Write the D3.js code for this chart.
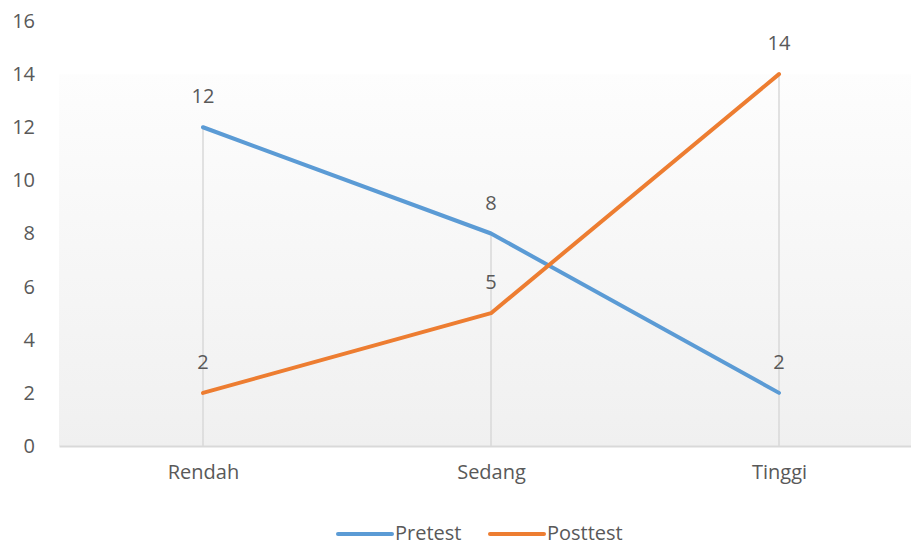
<!DOCTYPE html>
<html>
<head>
<meta charset="utf-8">
<script src="https://cdn.jsdelivr.net/npm/d3@7"></script>
<style>
  body { margin: 0; background: #fff; }
  svg text { font-family: "Open Sans", sans-serif; fill: #595959; }
</style>
</head>
<body>
<svg id="chart" width="911" height="545"></svg>
<script>
// Chart data
const categories = ['Rendah', 'Sedang', 'Tinggi'];
const pretest = [12, 8, 2];
const posttest = [2, 5, 14];
const yTicks = [0, 2, 4, 6, 8, 10, 12, 14, 16];
const seriesNames = ['Pretest', 'Posttest'];
const seriesColors = ['#5b9bd5', '#ed7d31'];

const WIDTH = 911;
const HEIGHT = 545;
const MARGIN = { left: 59, right: -12, top: 21, bottom: 99 };

const svg = d3.select('#chart');

// Scales
const xScale = d3.scalePoint()
  .domain(categories)
  .range([MARGIN.left, WIDTH - MARGIN.right])
  .padding(0.5);

const yScale = d3.scaleLinear()
  .domain([0, 16])
  .range([HEIGHT - MARGIN.bottom, MARGIN.top]);

// Plot background gradient
const grad = svg.append('defs').append('linearGradient')
  .attr('id', 'bg')
  .attr('x1', 0).attr('y1', 0).attr('x2', 0).attr('y2', 1);
grad.append('stop').attr('offset', '0%').attr('stop-color', '#fdfdfd');
grad.append('stop').attr('offset', '100%').attr('stop-color', '#f0f0f0');

svg.append('rect')
  .attr('x', MARGIN.left)
  .attr('y', yScale(14))
  .attr('width', WIDTH - MARGIN.left)
  .attr('height', yScale(0) - yScale(14))
  .attr('fill', 'url(#bg)');

// Y axis labels (no line)
const yAxis = d3.axisLeft(yScale).tickValues(yTicks).tickSize(0).tickPadding(24);
svg.append('g')
  .attr('transform', `translate(${MARGIN.left}, 0)`)
  .call(yAxis)
  .call(g => g.select('.domain').remove())
  .call(g => g.selectAll('text')
    .style('font-size', '20px')
    .attr('fill', '#595959'));

// X axis
const xAxis = d3.axisBottom(xScale).tickSize(0).tickPadding(19);
svg.append('g')
  .attr('transform', `translate(0, ${yScale(0)})`)
  .call(xAxis)
  .call(g => g.select('.domain')
    .attr('stroke', '#d9d9d9')
    .attr('stroke-width', 2))
  .call(g => g.selectAll('text')
    .style('font-size', '20px')
    .attr('fill', '#595959'));

// Drop lines from highest point to axis
const maxVals = categories.map((c, i) => Math.max(pretest[i], posttest[i]));
svg.append('g').selectAll('line')
  .data(categories)
  .join('line')
  .attr('x1', d => xScale(d))
  .attr('x2', d => xScale(d))
  .attr('y1', (d, i) => yScale(maxVals[i]))
  .attr('y2', yScale(0))
  .attr('stroke', '#d9d9d9')
  .attr('stroke-width', 1.5);

// Series lines
const allSeries = [pretest, posttest];
const lineGenerator = d3.line()
  .x((d, i) => xScale(categories[i]))
  .y(d => yScale(d));

svg.append('g').selectAll('path')
  .data(allSeries)
  .join('path')
  .attr('d', lineGenerator)
  .attr('fill', 'none')
  .attr('stroke', (d, i) => seriesColors[i])
  .attr('stroke-width', 4)
  .attr('stroke-linecap', 'round')
  .attr('stroke-linejoin', 'round');

// Data labels
allSeries.forEach(values => {
  svg.append('g').selectAll('text')
    .data(values)
    .join('text')
    .attr('x', (d, i) => xScale(categories[i]))
    .attr('y', d => yScale(d) - 24)
    .attr('text-anchor', 'middle')
    .style('font-size', '20px')
    .text(d => d);
});

// Legend
const legendX = [338, 490];
const legend = svg.append('g').selectAll('g')
  .data(seriesNames)
  .join('g')
  .attr('transform', (d, i) => `translate(${legendX[i]}, 534)`);
legend.append('line')
  .attr('x1', 0).attr('x2', 54)
  .attr('y1', 0).attr('y2', 0)
  .attr('stroke', (d, i) => seriesColors[i])
  .attr('stroke-width', 4)
  .attr('stroke-linecap', 'round');
legend.append('text')
  .attr('x', 57)
  .attr('y', 6)
  .style('font-size', '20px')
  .text(d => d);
</script>
</body>
</html>
